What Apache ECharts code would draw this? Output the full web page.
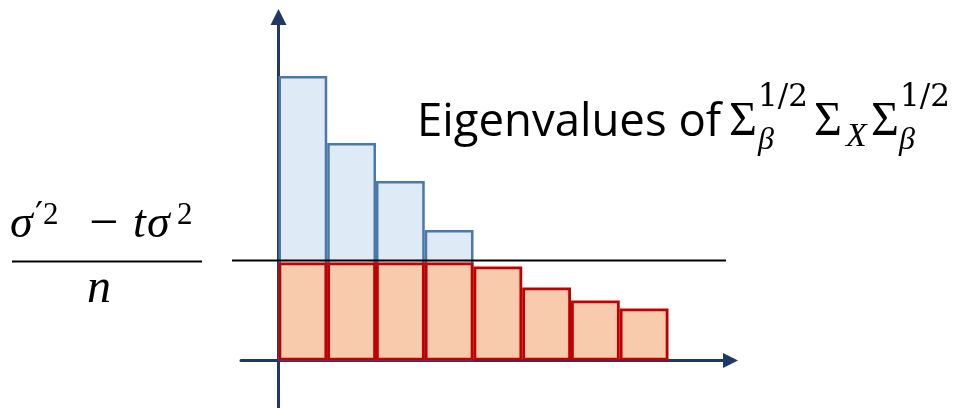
<!DOCTYPE html>
<html>
<head>
<meta charset="utf-8">
<script src="https://cdn.jsdelivr.net/npm/echarts@6/dist/echarts.min.js"></script>
<style>
html,body{margin:0;padding:0;background:#fff;}
#chart{width:957px;height:408px;}
</style>
</head>
<body>
<div id="chart"></div>
<script>
// ---- data ----
var barPositions = [0.5, 1.5, 2.5, 3.5, 4.5, 5.5, 6.5, 7.5];
var eigenvaluesAbove = [2.845, 2.175, 1.795, 1.305];             // full eigenvalues exceeding the threshold
var clippedValues = [0.98, 0.98, 0.98, 0.98, 0.94, 0.73, 0.60, 0.52]; // red part (capped at threshold)
var thresholdLevel = 1.0;
var thresholdSpan = [0, 1];
var titleText = 'Eigenvalues of';

var axisColor = '#203864';
var chart = echarts.init(document.getElementById('chart'));

function pairs(xs, ys) {
  return ys.map(function (v, i) { return [xs[i], v]; });
}

var serif = '"Liberation Serif", "DejaVu Serif", serif';
var dserif = '"DejaVu Serif", serif';
function txt(x, y, text, size, italic, family) {
  return {
    type: 'text', x: x, y: y, z: 100,
    style: {
      text: text,
      font: (italic ? 'italic ' : '') + size + 'px ' + (family || serif),
      fill: '#000',
      verticalAlign: 'bottom',
      align: 'left'
    }
  };
}

var graphics = [
  txt(417, 146, titleText, 45.5, false, '"Open Sans", "Noto Sans", sans-serif'),
  // Σ_β^{1/2}
  txt(729, 146, 'Σ', 48, false),
  txt(758, 113, '1/2', 31, false, dserif),
  txt(758, 157, 'β', 32, true),
  // Σ_X
  txt(814, 146, 'Σ', 48, false),
  txt(846, 154, 'X', 34, true),
  // Σ_β^{1/2}
  txt(871, 146, 'Σ', 48, false),
  txt(900, 113, '1/2', 31, false, dserif),
  txt(899, 157, 'β', 32, true),
  // fraction numerator
  txt(10, 248, 'σ', 46, true),
  txt(35, 236, '′', 36, false, dserif),
  txt(43, 231, '2', 31, false),
  txt(89, 251, '−', 52, false),
  txt(133, 248, 't', 46, true),
  txt(147, 248, 'σ', 46, true),
  txt(177, 231, '2', 31, false),
  // fraction bar
  {type: 'line', z: 100, shape: {x1: 12, y1: 261.5, x2: 202, y2: 261.5}, style: {stroke: '#000', lineWidth: 2}},
  // denominator
  txt(87, 313, 'n', 48, true)
];

var yRange = {min: -0.475, max: 3.435};

var option = {
  animation: false,
  backgroundColor: '#ffffff',
  grid: [
    {left: 241, right: 226.5, top: 17, bottom: 0, containLabel: false},
    {left: 232, right: 231, top: 17, bottom: 0, containLabel: false}
  ],
  xAxis: [{
    type: 'value', min: -0.769, max: 9.272, gridIndex: 0,
    axisLine: {show: true, onZero: true, symbol: ['none', 'triangle'], symbolSize: [15, 15],
      lineStyle: {color: axisColor, width: 3}},
    axisTick: {show: false}, axisLabel: {show: false}, splitLine: {show: false}
  }, {
    type: 'value', min: 0, max: 1, gridIndex: 1, show: false
  }],
  yAxis: [{
    type: 'value', min: yRange.min, max: yRange.max, gridIndex: 0,
    axisLine: {show: true, onZero: true, symbol: ['none', 'triangle'], symbolSize: [16, 16],
      lineStyle: {color: axisColor, width: 3}},
    axisTick: {show: false}, axisLabel: {show: false}, splitLine: {show: false}
  }, {
    type: 'value', min: yRange.min, max: yRange.max, gridIndex: 1, show: false
  }],
  series: [
    {
      type: 'bar', name: 'above',
      data: pairs(barPositions, eigenvaluesAbove),
      barWidth: 48.75, barGap: '-100%',
      itemStyle: {color: '#DEEAF6', borderColor: '#4A78A8', borderWidth: 2.5},
      z: 2
    },
    {
      type: 'bar', name: 'clipped',
      data: pairs(barPositions, clippedValues),
      barWidth: 48.75, barGap: '-100%',
      itemStyle: {color: '#F8CBAD', borderColor: '#C00000', borderWidth: 2.8},
      z: 3
    },
    {
      type: 'line', name: 'threshold', xAxisIndex: 1, yAxisIndex: 1,
      data: [[thresholdSpan[0], thresholdLevel], [thresholdSpan[1], thresholdLevel]],
      symbol: 'none', silent: true,
      lineStyle: {color: '#000', width: 2},
      z: 4
    }
  ],
  graphic: graphics
};
chart.setOption(option);
</script>
</body>
</html>
